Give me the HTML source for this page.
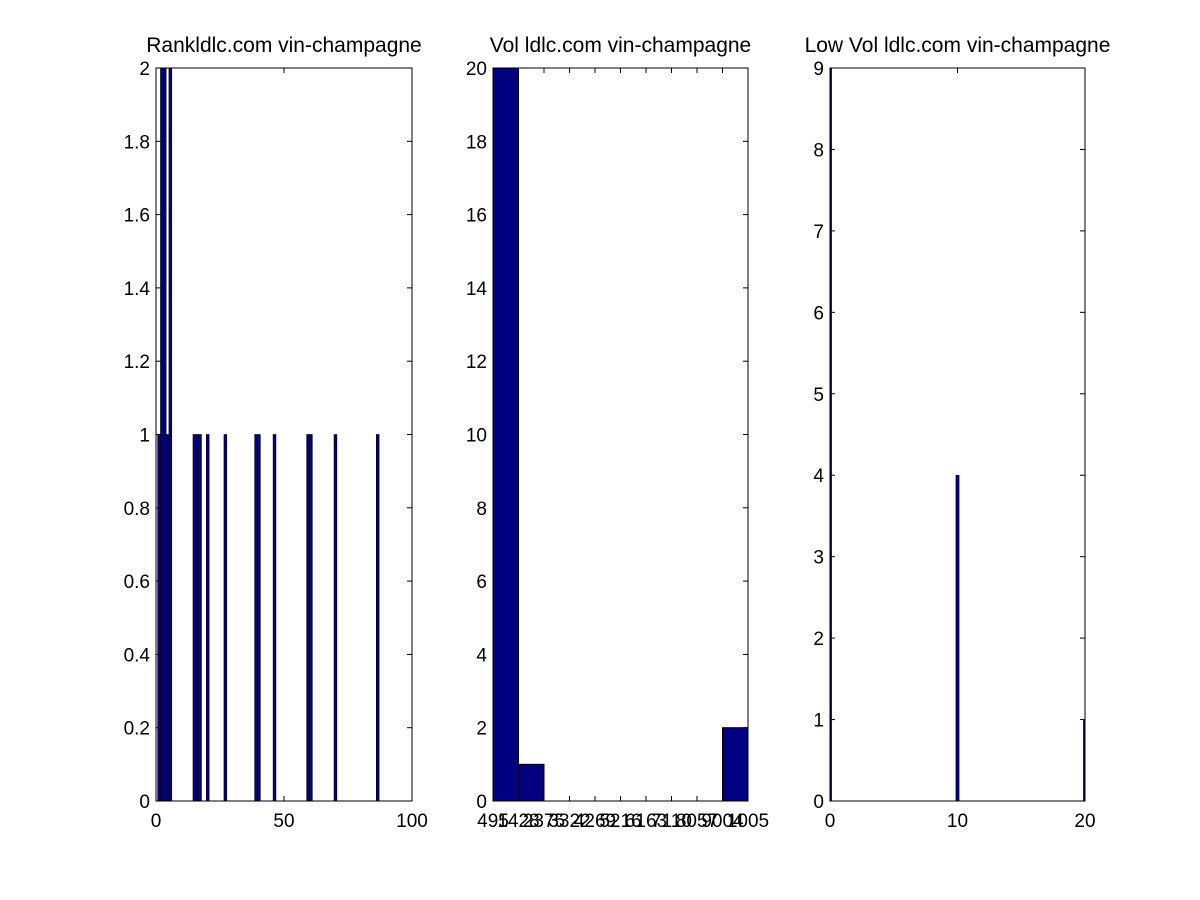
<!DOCTYPE html>
<html><head><meta charset="utf-8"><style>
html,body{margin:0;padding:0;background:#fff;}
svg{display:block;font-family:"Liberation Sans",Arial,sans-serif;}
</style></head><body>
<svg id="fig" width="1200" height="900" viewBox="0 0 1200 900" xmlns="http://www.w3.org/2000/svg"></svg>
<script>
// Panel 1: Rank
const rankCenters = [1.2,2.3,3.4,4.5,5.6,15.0,16.1,17.2,20.2,27.1,39.1,40.2,46.3,59.4,60.5,70.1,86.6];
const rankCounts  = [1,2,2,1,2,1,1,1,1,1,1,1,1,1,1,1,1];
const rankYTicks = ["0","0.2","0.4","0.6","0.8","1","1.2","1.4","1.6","1.8","2"];
const rankXTicks = [0,50,100];
// Panel 2: Vol
const volCounts = [20,1,0,0,0,0,0,0,0,2];
const volXLabels = ["495","1428","2375","3322","4269","5216","6163","7110","8057","9004","1005"];
const volYTicks = [0,2,4,6,8,10,12,14,16,18,20];
// Panel 3: Low Vol
const lowCenters = [0,10,20];
const lowCounts = [9,4,1];
const lowYTicks = [0,1,2,3,4,5,6,7,8,9];
const lowXTicks = [0,10,20];

const NS="http://www.w3.org/2000/svg";
const svg=document.getElementById('fig');
function el(tag,attrs,parent){const e=document.createElementNS(NS,tag);for(const k in attrs)e.setAttribute(k,attrs[k]);(parent||svg).appendChild(e);return e;}
const TOP=68,BOT=801;
const FILL="#000080";

function panel(name,x0,x1,xmin,xmax,ymax,title,yTicks,yLabels){
  const g=el('g',{});
  
  
  const sx=v=>x0+(v-xmin)/(xmax-xmin)*(x1-x0);
  const sy=v=>BOT-v/ymax*(BOT-TOP);
  const t=el('text',{x:(x0+x1)/2,y:52,'font-size':21,'text-anchor':'middle',fill:'#000'},g);
  t.textContent=title;
  
  
  yTicks.forEach((v,i)=>{
    const y=sy(v);
    el('line',{x1:x0,x2:x0+5,y1:y,y2:y,stroke:'#000'},g);
    el('line',{x1:x1,x2:x1-5,y1:y,y2:y,stroke:'#000'},g);
    const l=el('text',{x:x0-6,y:y+7,'font-size':19,'text-anchor':'end'},g);
    l.textContent=yLabels?yLabels[i]:String(v);
    
    
  });
  return {g,sx,sy};
}
function frame(g,x0,x1){el('rect',{x:x0,y:TOP,width:x1-x0,height:BOT-TOP,fill:'none',stroke:'#000','stroke-width':1},g);}
function xTick(g,x,label){
  el('line',{x1:x,x2:x,y1:BOT,y2:BOT-5,stroke:'#000'},g);
  el('line',{x1:x,x2:x,y1:TOP,y2:TOP+5,stroke:'#000'},g);
  const l=el('text',{x:x,y:827,'font-size':19,'text-anchor':'middle'},g);
  l.textContent=label;
  
  
}

// Panel 1
(function(){
  const x0=156,x1=412;
  const p=panel('rank',x0,x1,0,100,2,'Rankldlc.com vin-champagne',rankYTicks.map(Number),rankYTicks);
  const w=1.1;
  rankCenters.forEach((c,i)=>{
    const r=el('rect',{x:p.sx(c-w/2),y:p.sy(rankCounts[i]),width:p.sx(c+w/2)-p.sx(c-w/2),height:BOT-p.sy(rankCounts[i]),fill:FILL,stroke:'#000','stroke-width':0.6},p.g);
    
    
  });
  rankXTicks.forEach(v=>xTick(p.g,p.sx(v),String(v)));
  frame(p.g,x0,x1);
})();
// Panel 2
(function(){
  const x0=493,x1=748;
  const p=panel('vol',x0,x1,0,volCounts.length,20,'Vol ldlc.com vin-champagne',volYTicks);
  volCounts.forEach((c,i)=>{
    if(c<=0)return;
    const r=el('rect',{x:p.sx(i),y:p.sy(c),width:p.sx(i+1)-p.sx(i),height:BOT-p.sy(c),fill:FILL,stroke:'#000','stroke-width':1},p.g);
    
    
  });
  volXLabels.forEach((s,i)=>xTick(p.g,p.sx(i),s));
  frame(p.g,x0,x1);
})();
// Panel 3
(function(){
  const x0=830,x1=1085;
  const p=panel('low-vol',x0,x1,0,20,9,'Low Vol ldlc.com vin-champagne',lowYTicks);
  const w=0.25;
  lowCenters.forEach((c,i)=>{
    const a=Math.max(p.sx(c-w/2),x0),b=Math.min(p.sx(c+w/2),x1);
    const r=el('rect',{x:a,y:p.sy(lowCounts[i]),width:b-a,height:BOT-p.sy(lowCounts[i]),fill:FILL,stroke:'#000','stroke-width':0.5},p.g);
    
    
  });
  lowXTicks.forEach(v=>xTick(p.g,p.sx(v),String(v)));
  frame(p.g,x0,x1);
})();
</script>
</body></html>
